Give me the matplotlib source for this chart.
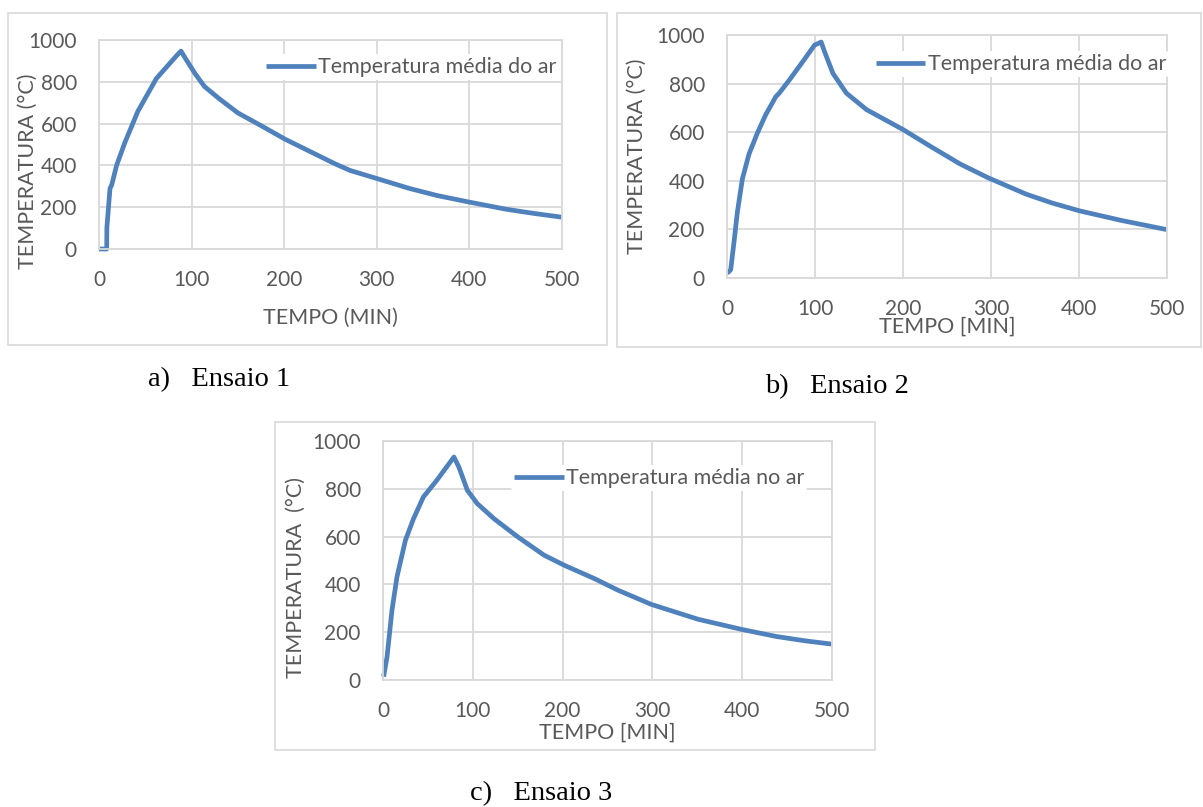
import matplotlib
matplotlib.use("Agg")
import matplotlib.pyplot as plt
from matplotlib.patches import Rectangle

# Ensaio 1
t1 = [0, 8.3, 8.5, 11.9, 13.7, 19, 28, 42, 62, 73, 84, 88.5, 94.6, 103.6, 114, 129,
      150, 175.5, 200.7, 229.5, 254.7, 271, 301, 335, 365, 398, 440, 470, 500]
temp1 = [0, 0, 102, 290, 306, 400, 510, 659, 816, 871, 926, 947, 903, 840, 777, 722,
         651, 589, 526, 463, 408, 376, 336, 290, 256, 226, 190, 170, 152]

# Ensaio 2
t2 = [0, 1.5, 4.2, 8, 11.8, 17.5, 25, 34.7, 44, 55.6, 59.4, 70.9, 86, 99.4, 107,
      110.9, 120.4, 135.6, 158.5, 200, 232, 265, 297, 340, 370, 401, 448, 500]
temp2 = [22, 24, 34, 149, 272, 408, 510, 598, 672, 747, 761, 815, 890, 958, 971,
         931, 842, 761, 693, 611, 540, 469, 412, 345, 308, 276, 237, 199]

# Ensaio 3
t3 = [0.7, 4.5, 10, 15.6, 25, 34, 45, 60, 79, 84.5, 93.9, 105, 123.6, 150, 179.5,
      201.9, 235, 261.5, 299, 351, 399, 438, 470, 500]
temp3 = [14, 97, 292, 432, 585, 675, 766, 836, 933, 891, 794, 738, 675, 599, 522,
         480, 425, 376, 316, 254, 212, 182, 164, 150]

W, H = 1203, 807
fig = plt.figure(figsize=(W / 100, H / 100), dpi=100)

LINE = "#4F81BD"
GRID = "#D9D9D9"
TXT = "#595959"
FONT = "Lato"


def px_axes(x0, x1, ytop, ybot):
    return fig.add_axes([x0 / W, 1 - ybot / H, (x1 - x0) / W, (ybot - ytop) / H])


def frame(x0, y0, x1, y1):
    fig.patches.append(Rectangle((x0 / W, 1 - y1 / H), (x1 - x0) / W, (y1 - y0) / H,
                                 transform=fig.transFigure, fill=False,
                                 edgecolor=GRID, linewidth=1.2))


def panel(ax, t, temp, label, ylabel, xlabel, xlab_y, ylab_xy, leg_anchor):
    ax.plot(t, temp, color=LINE, linewidth=3.4, label=label, clip_on=False,
            solid_joinstyle="round", solid_capstyle="butt")
    ax.set_xlim(0, 500)
    ax.set_ylim(0, 1000)
    ax.set_xticks(range(0, 501, 100))
    ax.set_yticks(range(0, 1001, 200))
    ax.grid(True, color=GRID, linewidth=1.3)
    ax.set_axisbelow(True)
    for s in ax.spines.values():
        s.set_color(GRID)
        s.set_linewidth(1.3)
    ax.tick_params(axis="y", length=0, labelsize=15, labelcolor=TXT, pad=16)
    ax.tick_params(axis="x", length=0, labelsize=15, labelcolor=TXT, pad=15)
    for lab in ax.get_xticklabels() + ax.get_yticklabels():
        lab.set_family(FONT)
    ax.set_ylabel(ylabel, fontsize=15.5, color=TXT, family=FONT)
    ax.yaxis.set_label_coords(*ylab_xy)
    ax.yaxis.label.set_va("center")
    ax.set_xlabel(xlabel, fontsize=15.5, color=TXT, family=FONT)
    ax.xaxis.set_label_coords(0.5, xlab_y)
    ax.xaxis.label.set_va("center")
    leg = ax.legend(loc="center right", bbox_to_anchor=leg_anchor, frameon=True,
                    facecolor="white", edgecolor="none", framealpha=1,
                    handlelength=2.3, handletextpad=0.1, borderpad=0.15,
                    borderaxespad=0, prop={"family": FONT, "size": 15.5})
    for txt in leg.get_texts():
        txt.set_color(TXT)


ax1 = px_axes(99, 562, 40, 249)
frame(8, 13, 607, 345)
panel(ax1, t1, temp1, "Temperatura média do ar", "TEMPERATURA (°C)", "TEMPO (MIN)",
      -0.33, (-0.153, 0.37), (0.995, 0.87))

ax2 = px_axes(727, 1167, 35, 278)
frame(617, 13, 1201, 347)
panel(ax2, t2, temp2, "Temperatura média do ar", "TEMPERATURA (°C)", "TEMPO [MIN]",
      -0.20, (-0.205, 0.5), (1.005, 0.88))

ax3 = px_axes(383, 832, 441, 680)
frame(275, 422, 875, 750)
panel(ax3, t3, temp3, "Temperatura média no ar", "TEMPERATURA  (°C)", "TEMPO [MIN]",
      -0.22, (-0.194, 0.43), (0.945, 0.845))

cap = dict(fontsize=20.5, family="Liberation Serif", color="black", va="center")
fig.text(148 / W, 1 - 380 / H, "a)   Ensaio 1", **cap)
fig.text(765 / W, 1 - 387 / H, "b)   Ensaio 2", **cap)
fig.text(470 / W, 1 - 794 / H, "c)   Ensaio 3", **cap)

fig.savefig("out.png", dpi=100, facecolor="white")
